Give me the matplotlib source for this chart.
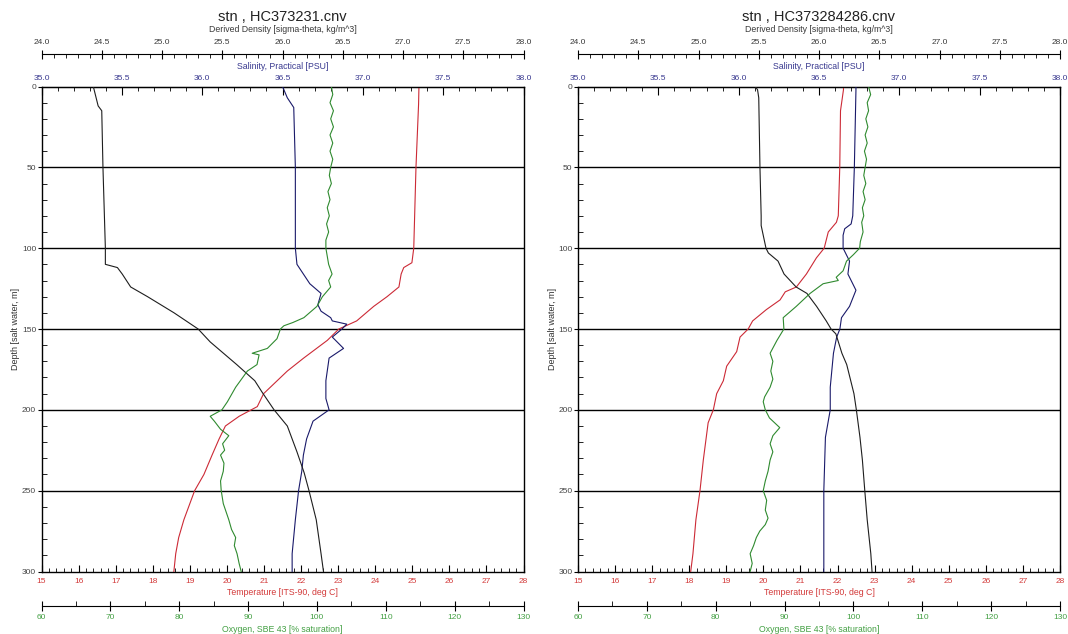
import matplotlib
matplotlib.use("Agg")
import matplotlib.pyplot as plt
from matplotlib.ticker import MultipleLocator, FormatStrFormatter

plt.rcParams['font.family'] = ['Liberation Sans', 'DejaVu Sans']

W, H = 1068, 634

# ---- station HC373231 (left) ----
a_den_dep = [0, 12, 15, 50, 100, 110, 112, 116, 124, 130, 140, 150, 158, 172, 182, 189, 200,
             210, 226, 239, 250, 268, 289, 300]
a_den = [24.43, 24.47, 24.50, 24.51, 24.53, 24.53, 24.63, 24.67, 24.74, 24.88, 25.10, 25.30,
         25.40, 25.62, 25.77, 25.83, 25.93, 26.04, 26.12, 26.18, 26.22, 26.28, 26.32, 26.34]

a_sal_dep = [0, 7, 13, 50, 100, 110, 116, 122, 128, 135, 139, 143, 145, 147, 150, 155, 162,
             168, 182, 193, 200, 207, 218, 228, 238, 250, 268, 289, 300]
a_sal = [36.50, 36.53, 36.57, 36.58, 36.58, 36.59, 36.63, 36.67, 36.74, 36.72, 36.74, 36.80,
         36.81, 36.90, 36.87, 36.81, 36.88, 36.79, 36.77, 36.77, 36.79, 36.69, 36.65, 36.63,
         36.62, 36.60, 36.58, 36.56, 36.56]

a_tem_dep = [0, 11, 50, 100, 109, 112, 116, 124, 130, 136, 145, 150, 157, 168, 176, 190, 198,
             204, 210, 218, 228, 240, 250, 268, 279, 289, 300]
a_tem = [25.18, 25.17, 25.10, 25.04, 24.99, 24.77, 24.70, 24.64, 24.32, 23.96, 23.50, 23.02,
         22.71, 22.07, 21.63, 20.99, 20.82, 20.33, 19.96, 19.79, 19.60, 19.38, 19.13, 18.84,
         18.70, 18.62, 18.57]

a_oxy_dep = [0, 5, 10, 15, 20, 25, 30, 35, 40, 45, 50, 55, 60, 65, 70, 75, 80, 85, 90, 95, 100,
             105, 110, 116, 120, 124, 130, 136, 143, 146, 148, 150, 156, 162, 165, 166, 172, 176,
             186, 195, 200, 204, 207, 212, 216, 221, 225, 228, 233, 238, 244, 250, 258, 263, 268,
             274, 279, 284, 289, 295, 300]
a_oxy = [102.1, 102.3, 101.9, 102.4, 102.0, 102.4, 101.9, 102.3, 101.9, 102.3, 102.0, 101.8,
         102.1, 101.6, 101.9, 101.5, 101.8, 101.4, 101.7, 101.3, 101.3, 101.5, 101.7, 102.2,
         101.7, 102.0, 100.8, 100.0, 98.1, 96.5, 95.2, 94.7, 94.2, 92.8, 90.6, 91.6, 91.3, 89.9,
         88.2, 87.0, 86.2, 84.5, 85.1, 86.0, 87.2, 86.3, 86.6, 86.0, 86.5, 86.4, 86.0, 86.1,
         86.4, 86.8, 87.2, 87.6, 88.2, 88.0, 88.4, 88.7, 89.0]

# ---- station HC373284286 (right) ----
b_den_dep = [0, 2, 7, 50, 80, 86, 100, 103, 108, 116, 124, 128, 136, 145, 150, 153, 165, 172,
             190, 200, 217, 231, 250, 268, 289, 300]
b_den = [25.47, 25.49, 25.50, 25.51, 25.52, 25.52, 25.56, 25.58, 25.66, 25.71, 25.81, 25.90,
         25.98, 26.06, 26.10, 26.14, 26.19, 26.23, 26.29, 26.31, 26.34, 26.36, 26.38, 26.40,
         26.43, 26.44]

b_sal_dep = [0, 2, 50, 80, 85, 88, 92, 100, 104, 108, 116, 126, 136, 143, 150, 155, 165, 186,
             200, 217, 250, 300]
b_sal = [36.73, 36.73, 36.72, 36.71, 36.70, 36.66, 36.65, 36.65, 36.67, 36.69, 36.68, 36.73,
         36.69, 36.64, 36.63, 36.61, 36.59, 36.57, 36.57, 36.54, 36.53, 36.53]

b_tem_dep = [0, 2, 15, 50, 80, 84, 90, 100, 106, 116, 124, 127, 132, 138, 145, 150, 155, 164,
             173, 182, 190, 200, 208, 231, 250, 268, 289, 300]
b_tem = [22.16, 22.16, 22.08, 22.06, 22.02, 21.97, 21.75, 21.64, 21.43, 21.16, 20.89, 20.59,
         20.45, 20.08, 19.71, 19.59, 19.37, 19.28, 19.01, 18.92, 18.74, 18.65, 18.51, 18.38,
         18.29, 18.18, 18.10, 18.04]

b_oxy_dep = [0, 5, 10, 15, 20, 25, 30, 35, 40, 45, 50, 55, 60, 65, 70, 75, 80, 84, 90, 96, 100,
             104, 108, 114, 118, 120, 122, 128, 136, 143, 150, 157, 165, 170, 176, 181, 186, 192,
             195, 200, 205, 211, 216, 221, 226, 231, 238, 244, 250, 256, 262, 267, 271, 275, 279,
             284, 289, 295, 300]
b_oxy = [102.2, 102.5, 102.0, 102.2, 101.8, 102.1, 101.7, 102.0, 101.6, 101.9, 101.7, 101.5,
         101.8, 101.4, 101.7, 101.3, 101.5, 101.2, 101.4, 101.0, 100.9, 100.0, 99.0, 98.5, 97.5,
         97.8, 95.6, 93.7, 91.7, 89.8, 89.9, 88.9, 87.9, 88.3, 88.0, 88.3, 87.9, 87.1, 86.9,
         87.2, 87.8, 89.3, 88.3, 87.9, 88.3, 87.9, 87.6, 87.2, 86.9, 87.4, 87.2, 87.6, 87.2,
         86.4, 85.9, 85.5, 85.0, 85.3, 85.0]

grid_depths = [50, 100, 150, 200, 250]

C_DEN, C_SAL, C_TEM, C_OXY = '#1e1e1e', '#1a1a6a', '#cc2a36', '#2f8a2f'
T_DEN, T_SAL, T_TEM, T_OXY = '#3a3a3a', '#3a3a90', '#d33a3a', '#44a044'
PX = 0.72  # points per pixel at 100 dpi

fig = plt.figure(figsize=(W / 100, H / 100), dpi=100)


def panel(x0, title, den, sal, tem, oxy):
    ax = fig.add_axes([x0 / W, 1 - 571.5 / H, 482 / W, 485 / H])
    ax.set_ylim(300, 0)
    ax.set_xlim(15, 28)
    for d in grid_depths:
        ax.axhline(d, color='black', lw=1.0, zorder=1)
    for s in ax.spines.values():
        s.set_linewidth(1.0)

    # depth axis
    ax.yaxis.set_major_locator(MultipleLocator(50))
    ax.yaxis.set_minor_locator(MultipleLocator(10))
    ax.tick_params(axis='y', which='major', direction='out', length=4 * PX, labelsize=6,
                   labelcolor='#444444', pad=1)
    ax.tick_params(axis='y', which='minor', direction='in', length=5 * PX)
    ax.tick_params(axis='y', right=False, which='both')
    ax.set_ylabel('Depth [salt water, m]', fontsize=6.5, color='#333333', labelpad=1)

    # temperature (bottom)
    ax.xaxis.set_ticks_position('bottom')
    ax.xaxis.set_major_locator(MultipleLocator(1))
    ax.xaxis.set_minor_locator(MultipleLocator(0.2))
    ax.tick_params(axis='x', which='major', direction='in', length=7 * PX, labelsize=6,
                   labelcolor=T_TEM, pad=5)
    ax.tick_params(axis='x', which='minor', direction='in', length=4 * PX)
    ax.set_xlabel('Temperature [ITS-90, deg C]', fontsize=6.3, color=T_TEM, labelpad=1.5)
    ax.plot(tem[1], tem[0], color=C_TEM, lw=0.8, zorder=3)

    # salinity (top)
    axs = ax.twiny()
    axs.set_xlim(35, 38)
    axs.xaxis.set_major_locator(MultipleLocator(0.5))
    axs.xaxis.set_minor_locator(MultipleLocator(0.1))
    axs.xaxis.set_major_formatter(FormatStrFormatter('%.1f'))
    axs.tick_params(axis='x', which='major', direction='in', length=8 * PX, labelsize=6,
                    labelcolor=T_SAL, pad=3.5)
    axs.tick_params(axis='x', which='minor', direction='in', length=4 * PX)
    axs.set_xlabel('Salinity, Practical [PSU]', fontsize=6.3, color=T_SAL, labelpad=4)
    for k in ('left', 'right', 'bottom'):
        axs.spines[k].set_visible(False)
    axs.plot(sal[1], sal[0], color=C_SAL, lw=0.8, zorder=3)

    # density (top, offset)
    axd = ax.twiny()
    axd.set_xlim(24, 28)
    axd.spines['top'].set_position(('outward', 33 * PX))
    for k in ('left', 'right', 'bottom'):
        axd.spines[k].set_visible(False)
    axd.xaxis.set_major_locator(MultipleLocator(0.5))
    axd.xaxis.set_minor_locator(MultipleLocator(0.1))
    axd.xaxis.set_major_formatter(FormatStrFormatter('%.1f'))
    axd.tick_params(axis='x', which='major', direction='inout', length=9 * PX, labelsize=6,
                    labelcolor=T_DEN, pad=2)
    axd.tick_params(axis='x', which='minor', direction='in', length=4 * PX)
    axd.set_xlabel('Derived Density [sigma-theta, kg/m^3]', fontsize=6.3, color=T_DEN,
                   labelpad=5)
    axd.plot(den[1], den[0], color=C_DEN, lw=0.8, zorder=3)

    # oxygen (bottom, offset)
    axo = ax.twiny()
    axo.set_xlim(60, 130)
    axo.xaxis.set_ticks_position('bottom')
    axo.xaxis.set_label_position('bottom')
    axo.spines['bottom'].set_position(('outward', 34 * PX))
    for k in ('left', 'right', 'top'):
        axo.spines[k].set_visible(False)
    axo.xaxis.set_major_locator(MultipleLocator(10))
    axo.xaxis.set_minor_locator(MultipleLocator(5))
    axo.tick_params(axis='x', which='major', direction='inout', length=10 * PX, labelsize=6,
                    labelcolor=T_OXY, pad=2.5)
    axo.tick_params(axis='x', which='minor', direction='in', length=5 * PX)
    axo.set_xlabel('Oxygen, SBE 43 [% saturation]', fontsize=6.3, color=T_OXY, labelpad=3)
    axo.plot(oxy[1], oxy[0], color=C_OXY, lw=0.8, zorder=3)

    fig.text((x0 + 241) / W, 1 - 17 / H, title, ha='center', va='center', fontsize=10.5,
             color='#222222')


panel(41.5, 'stn , HC373231.cnv', (a_den_dep, a_den), (a_sal_dep, a_sal),
      (a_tem_dep, a_tem), (a_oxy_dep, a_oxy))
panel(578, 'stn , HC373284286.cnv', (b_den_dep, b_den), (b_sal_dep, b_sal),
      (b_tem_dep, b_tem), (b_oxy_dep, b_oxy))

fig.savefig('out.png', dpi=100)
